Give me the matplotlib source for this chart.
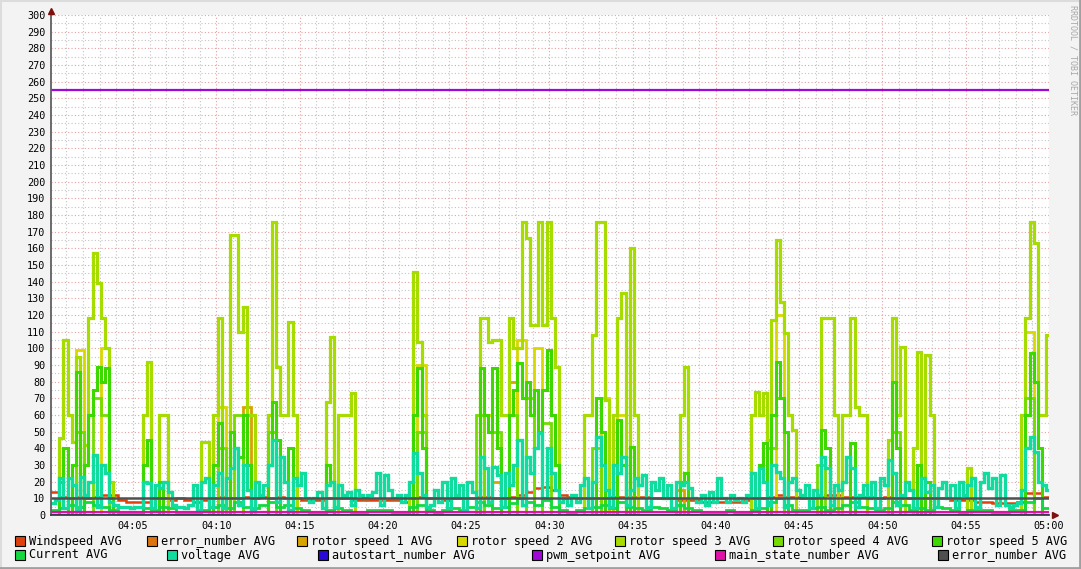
import numpy as np
import matplotlib
matplotlib.use('Agg')
import matplotlib.pyplot as plt
from matplotlib.patches import Rectangle
from matplotlib.lines import Line2D

W, H = 1081, 569

# 15 s samples, 04:00 .. 05:00
rotor3 = [0,0,46,105,60,44,95,5,42,118, 157,139,118,100,20,0,0,0,0,0,
          0,0,60,92,0,0,60,60,0,0, 0,0,0,0,0,0,44,44,0,60,
          118,10,0,168,168,110,125,60,60,0, 0,0,60,176,89,60,60,116,60,0,
          0,0,0,0,0,0,68,107,0,60, 60,60,73,0,0,0,0,0,0,0,
          0,0,0,0,0,0,10,146,104,60, 0,0,0,0,0,0,0,0,0,0,
          0,0,0,118,118,104,105,105,60,60, 118,100,100,176,166,114,114,176,114,176,
          118,89,0,0,0,0,0,0,60,60, 108,176,176,69,0,60,118,133,0,160,
          60,0,0,0,0,0,0,0,0,0, 0,60,89,0,0,0,0,0,0,0,
          0,0,0,0,0,0,0,0,60,74, 60,73,45,117,165,128,109,60,51,0,
          0,0,0,0,0,118,118,118,60,0, 60,60,118,65,60,60,0,0,0,0,
          0,45,118,60,101,0,0,40,98,0, 96,60,0,0,0,0,0,0,0,0,
          28,0,0,0,0,0,0,0,0,0, 0,0,0,60,118,176,163,60,60,108]

rotor5 = [0,0,20,40,0,30,86,0,30,60, 75,89,80,88,10,0,0,0,0,0,
          0,0,30,45,0,0,20,0,0,0, 0,0,0,0,0,0,0,0,0,30,
          55,0,0,50,40,35,60,30,0,0, 0,0,30,68,45,0,0,40,0,0,
          0,0,0,0,0,0,30,20,0,0, 0,0,0,0,0,0,0,0,0,0,
          0,0,0,0,0,0,0,60,88,40, 0,0,0,0,0,0,0,0,0,0,
          0,0,0,88,60,50,88,40,0,0, 60,75,91,70,80,60,75,50,75,99,
          60,30,0,0,0,0,0,0,0,0, 0,70,50,0,0,0,57,30,0,41,
          0,0,0,0,0,0,0,0,0,0, 0,20,25,0,0,0,0,0,0,0,
          0,0,0,0,0,0,0,0,0,0, 30,43,0,60,92,70,50,0,0,0,
          0,0,0,0,0,51,40,0,0,0, 0,0,43,0,0,0,0,0,0,0,
          0,0,80,40,0,0,0,0,30,0, 20,0,0,0,0,0,0,0,0,0,
          0,0,0,0,0,0,0,0,0,0, 0,0,0,0,60,97,80,40,0,0]

voltage = [7,9,22,4,22,18,3,23,12,20, 36,5,30,25,8,6,5,5,5,4,
           5,5,20,19,4,18,16,20,14,6, 5,5,4,6,18,3,20,22,5,18,
           25,4,22,28,40,6,30,15,3,20, 12,18,30,45,8,35,20,3,22,18,
           25,10,8,10,14,4,18,20,5,18, 12,14,6,15,12,10,12,14,25,6,
           24,15,10,12,8,12,20,37,25,12, 5,6,15,8,20,4,22,12,18,3,
           20,14,4,35,28,8,29,24,5,25, 18,30,45,6,35,25,40,49,10,40,
           25,15,8,10,6,12,8,18,22,4, 20,47,30,15,5,30,25,35,6,15,
           22,18,24,5,20,15,22,10,18,4, 20,18,20,16,10,8,12,6,14,8,
           22,10,8,12,9,10,8,12,25,4, 28,20,6,30,26,22,5,20,22,15,
           12,18,4,15,12,35,28,6,18,15, 20,35,28,5,12,18,10,20,4,22,
           18,33,25,6,12,20,15,4,10,22, 14,18,5,16,20,10,18,4,20,12,
           18,22,5,20,25,16,22,6,24,6, 5,6,7,15,40,47,38,20,18,15]

# 30 s samples
windspeed = [14,11,10,11,10,11,12,12,9,8, 8,8,10,10,9,10,9,8,9,10,
             11,10,10,11,10,11,10,11,10,10, 9,9,9,10,10,10,9,9,9,9,
             9,9,8,10,11,10,10,9,10,10, 10,11,11,10,10,11,12,14,16,17,
             15,12,11,10,10,10,10,11,11,11, 11,11,10,10,10,9,9,9,8,8,
             8,8,8,9,10,10,11,12,11,11, 10,10,11,12,12,11,11,11,11,10,
             11,10,10,10,10,10,10,10,9,9, 9,8,8,7,7,7,8,13,13,11]

current = [3,4,6,5,8,6,5,3,2,2, 2,4,3,5,4,2,2,2,3,5,
           6,4,8,5,4,6,8,5,6,4, 3,2,2,3,4,3,2,2,3,3,
           3,2,2,5,6,3,2,3,4,3, 5,8,6,4,5,7,10,8,6,9,
           5,3,2,3,4,5,6,4,8,5, 4,3,5,4,3,6,4,3,2,2,
           2,3,2,2,3,4,8,10,6,3, 3,4,5,3,4,6,8,5,4,3,
           4,8,6,3,4,3,5,4,3,2, 3,3,3,2,2,3,3,8,10,4]

rotor4 = [0,0,0,50,0,70,60,0,0,0, 0,0,0,0,0,0,0,0,0,0,
          40,0,60,0,0,0,50,0,0,0, 0,0,0,0,0,0,0,0,0,0,
          0,0,0,0,50,0,0,0,0,0, 0,60,0,50,0,60,0,70,0,55,
          0,0,0,0,0,40,0,0,0,0, 0,0,0,0,0,0,0,0,0,0,
          0,0,0,0,0,0,40,70,0,0, 0,0,30,0,0,0,0,0,0,0,
          0,50,0,0,0,0,0,0,0,0, 0,0,0,0,0,0,0,70,0,0]

rotor2 = [0,0,0,99,0,0,100,0,0,0, 0,0,0,0,0,0,0,0,0,0,
          65,0,0,0,0,0,0,0,0,0, 0,0,0,0,0,0,0,0,0,0,
          0,0,0,0,90,0,0,0,0,0, 0,0,60,0,0,0,105,0,100,0,
          0,0,0,0,0,0,70,0,60,0, 0,0,0,0,0,0,0,0,0,0,
          0,0,0,0,0,0,0,120,0,0, 0,0,0,0,0,0,0,0,0,0,
          0,0,0,0,0,0,0,0,0,0, 0,0,0,0,0,0,0,110,0,0]

rotor1 = [0,0,0,0,0,0,0,0,0,0, 0,0,0,0,0,0,0,0,0,0,
          0,0,0,65,0,0,0,0,0,0, 0,0,0,0,0,0,0,0,0,0,
          0,0,0,0,0,0,0,0,0,0, 0,0,0,20,0,80,0,0,0,0,
          0,0,0,0,0,0,10,0,0,0, 0,0,0,0,0,15,0,0,0,0,
          0,0,0,0,0,0,0,0,0,0, 0,0,0,0,0,0,0,0,0,0,
          0,0,0,0,0,0,0,0,0,0, 0,0,0,0,0,0,0,0,0,0]

# constant series
error_orange = 0
autostart = 0
pwm_setpoint = 255
main_state = 2
error_number = 10

tick_labels = ['04:05', '04:10', '04:15', '04:20', '04:25', '04:30',
               '04:35', '04:40', '04:45', '04:50', '04:55', '05:00']

legend_names = ['Windspeed AVG', 'error_number AVG', 'rotor speed 1 AVG',
                'rotor speed 2 AVG', 'rotor speed 3 AVG', 'rotor speed 4 AVG',
                'rotor speed 5 AVG', 'Current AVG', 'voltage AVG',
                'autostart_number AVG', 'pwm_setpoint AVG',
                'main_state_number AVG', 'error_number AVG']
legend_colors = ['#E0400C', '#DC7210', '#D8A400', '#D8D800', '#A6DC00',
                 '#74DC00', '#3CD800', '#14D840', '#10DCA0', '#2A08D8',
                 '#A008D8', '#E010A8', '#505050']
# legend box left edges in pixels, two rows
legend_x = [15, 147, 297, 457, 615, 773, 932, 15, 167, 318, 532, 715, 938]
legend_y = [541, 541, 541, 541, 541, 541, 541, 555, 555, 555, 555, 555, 555]

mono = 'DejaVu Sans Mono'
fig = plt.figure(figsize=(W / 100, H / 100), dpi=100, facecolor='#f3f3f3')
ax = fig.add_axes([51 / W, 54 / H, 998 / W, 500 / H])
ax.set_facecolor('white')

t0 = 0.08
t15 = t0 + 0.25 * np.arange(len(rotor3))
t30 = t0 + 0.5 * np.arange(len(windspeed))


def stepline(t, v, color, lw=2.0):
    tt = np.append(t, 60)
    vv = np.append(v, v[-1])
    ax.plot(tt, vv, drawstyle='steps-post', color=color, lw=lw,
            solid_joinstyle='miter', zorder=3)


stepline(t30, windspeed, legend_colors[0], 1.8)
ax.axhline(error_orange, color=legend_colors[1], lw=1.6, zorder=3)
stepline(t30, rotor1, legend_colors[2])
stepline(t30, rotor2, legend_colors[3])
stepline(t15, rotor3, legend_colors[4], 2.3)
stepline(t30, rotor4, legend_colors[5])
stepline(t15, rotor5, legend_colors[6], 2.2)
stepline(t30, current, legend_colors[7], 2.0)
stepline(t15, voltage, legend_colors[8], 2.4)
ax.axhline(autostart, color=legend_colors[9], lw=1.6, zorder=3)
ax.axhline(pwm_setpoint, color=legend_colors[10], lw=1.6, zorder=3)
ax.axhline(main_state, color=legend_colors[11], lw=1.6, zorder=3)
ax.axhline(error_number, color=legend_colors[12], lw=1.8, zorder=3)

ax.set_xlim(t0, 60)
ax.set_ylim(0, 300)
ax.set_xticks(np.arange(5, 61, 5))
ax.set_xticklabels(tick_labels)
ax.set_xticks(np.arange(1, 61, 1), minor=True)
ax.set_yticks(np.arange(0, 301, 10))
ax.set_yticks(np.arange(5, 301, 10), minor=True)

ax.grid(which='minor', color='#c4c4c4', linestyle=(0, (1, 2)), lw=0.8, zorder=1)
ax.grid(which='major', color='#e6a0a0', linestyle=(0, (1, 2)), lw=0.8, zorder=1)
ax.set_axisbelow(True)

ax.tick_params(which='both', length=0, labelsize=7.3, pad=4)
for lab in ax.get_xticklabels() + ax.get_yticklabels():
    lab.set_family(mono)

for s in ['top', 'right']:
    ax.spines[s].set_visible(False)
ax.spines['left'].set_color('#606060')
ax.spines['bottom'].set_color('#404040')
ax.spines['left'].set_linewidth(1.3)
ax.spines['bottom'].set_linewidth(1.3)
ax.spines['left'].set_zorder(5)
ax.spines['bottom'].set_zorder(5)

# axis arrows
ax.plot([0], [1.008], marker='^', ms=5, color='#7f1010', transform=ax.transAxes,
        clip_on=False, zorder=6)
ax.plot([1.006], [0], marker='>', ms=5, color='#7f1010', transform=ax.transAxes,
        clip_on=False, zorder=6)

# legend
for name, col, lx, ly in zip(legend_names, legend_colors, legend_x, legend_y):
    fig.patches.append(Rectangle((lx / W, 1 - (ly + 5) / H), 10 / W, 10 / H,
                                 facecolor=col, edgecolor='black', lw=0.8,
                                 transform=fig.transFigure))
    fig.text((lx + 14) / W, 1 - ly / H, name, family=mono, fontsize=8.6,
             va='center', ha='left', color='black')

fig.text(1073 / W, 1 - 5 / H, 'RRDTOOL / TOBI OETIKER', family=mono, fontsize=6,
         rotation=270, va='top', ha='center', color='#a8a8a8')

# frame around the canvas
fig.add_artist(Line2D([0, 1], [1 - 0.5 / H] * 2, color='#dcdcdc', lw=1.5))
fig.add_artist(Line2D([0.5 / W] * 2, [0, 1], color='#dcdcdc', lw=1.5))
fig.add_artist(Line2D([0, 1], [1.5 / H] * 2, color='#a0a0a0', lw=2))
fig.add_artist(Line2D([1 - 1.5 / W] * 2, [0, 1], color='#a0a0a0', lw=2))

fig.savefig('out.png', dpi=100, facecolor=fig.get_facecolor())
